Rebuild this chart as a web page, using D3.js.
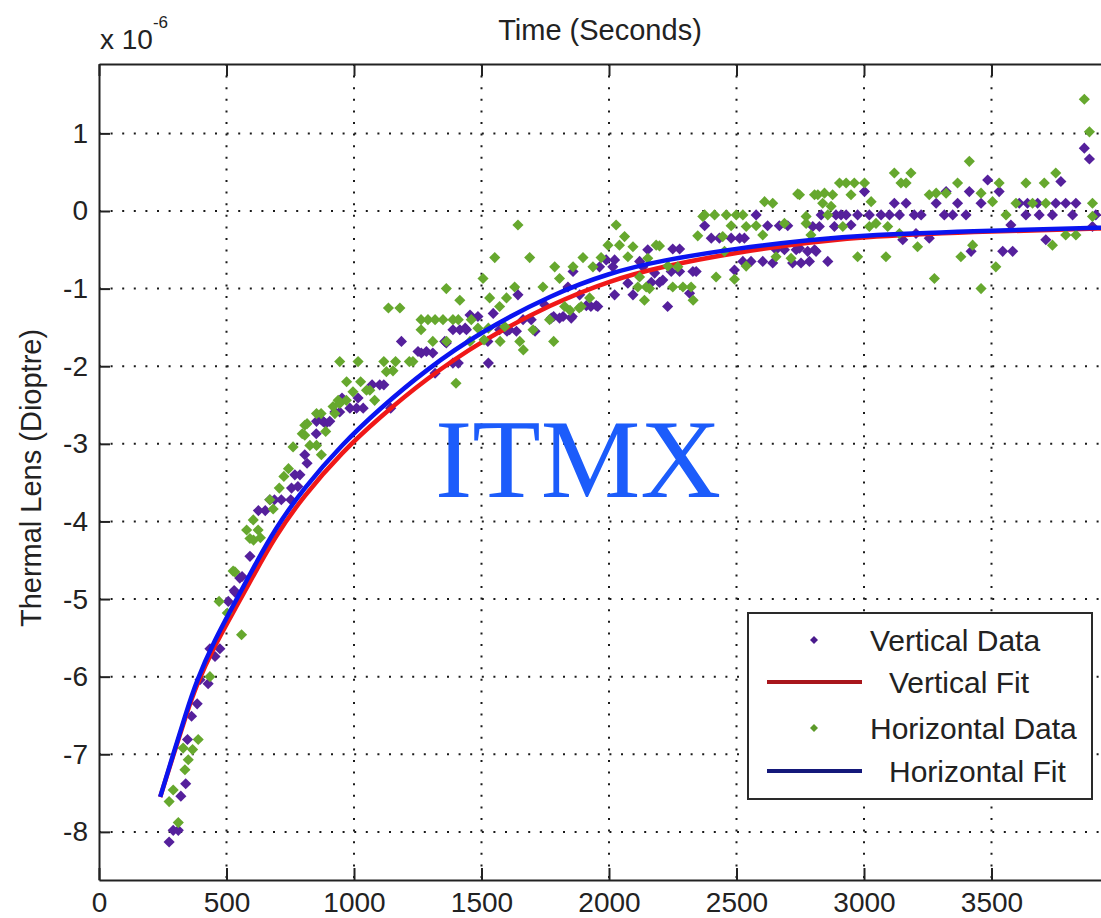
<!DOCTYPE html>
<html>
<head>
<meta charset="utf-8">
<script src="https://cdnjs.cloudflare.com/ajax/libs/d3/7.8.5/d3.min.js"></script>
<style>
  html, body { margin: 0; padding: 0; background: #fff; }
  svg { display: block; font-family: "Liberation Sans", Arial, sans-serif; }
</style>
</head>
<body>
<svg id="chart" width="1101" height="918"></svg>
<script>
// time (s), thermal lens (x 1e-6 dioptre)
const vertData = [[275,-8.13],[291,-7.98],[311,-7.98],[321,-7.54],[340,-7.38],[347,-6.81],[363,-6.51],[385,-6.35],[396,-6.04],[428,-6.09],[435,-5.64],[455,-5.74],[474,-5.64],[507,-5.03],[530,-4.89],[533,-4.91],[552,-4.73],[561,-4.71],[592,-4.45],[625,-3.86],[652,-3.86],[670,-3.72],[688,-3.72],[715,-3.72],[752,-3.72],[755,-3.57],[768,-3.40],[780,-3.55],[788,-3.40],[807,-3.14],[816,-3.25],[852,-2.87],[853,-2.71],[872,-2.69],[879,-2.71],[889,-2.74],[905,-2.71],[925,-2.59],[944,-2.59],[953,-2.41],[984,-2.54],[1010,-2.54],[1016,-2.41],[1036,-2.54],[1071,-2.24],[1101,-2.24],[1117,-2.24],[1144,-2.54],[1186,-1.68],[1251,-1.81],[1264,-1.83],[1284,-1.81],[1309,-1.83],[1318,-2.09],[1356,-1.68],[1362,-1.70],[1388,-1.53],[1388,-1.96],[1409,-1.96],[1415,-1.53],[1436,-1.51],[1441,-1.53],[1455,-1.34],[1486,-1.36],[1525,-1.68],[1527,-1.96],[1546,-1.32],[1571,-1.53],[1600,-1.55],[1610,-1.53],[1637,-1.55],[1643,-1.08],[1663,-1.40],[1695,-1.40],[1710,-1.55],[1748,-1.21],[1774,-1.38],[1783,-1.36],[1806,-1.38],[1820,-1.36],[1839,-0.98],[1852,-1.38],[1856,-1.36],[1859,-0.78],[1885,-1.08],[1911,-1.22],[1929,-1.23],[1950,-1.22],[1956,-1.23],[1963,-0.72],[1989,-0.63],[2015,-0.72],[2022,-0.63],[2022,-1.08],[2074,-0.93],[2094,-1.08],[2120,-0.65],[2133,-0.72],[2152,-0.50],[2166,-0.92],[2179,-0.80],[2198,-0.92],[2211,-0.89],[2230,-1.23],[2244,-0.78],[2250,-0.49],[2277,-0.49],[2277,-0.78],[2316,-1.06],[2329,-0.78],[2342,-0.78],[2375,-0.19],[2401,-0.35],[2433,-0.35],[2479,-0.35],[2492,-0.76],[2512,-0.35],[2525,-0.65],[2531,-0.35],[2557,-0.65],[2577,-0.05],[2603,-0.65],[2622,-0.19],[2642,-0.67],[2655,-0.50],[2668,-0.19],[2688,-0.50],[2701,-0.19],[2720,-0.67],[2734,-0.50],[2747,-0.48],[2753,-0.67],[2779,-0.52],[2786,-0.65],[2799,-0.20],[2806,-0.50],[2812,-0.52],[2825,-0.20],[2832,-0.05],[2858,-0.65],[2884,-0.20],[2890,-0.05],[2910,-0.05],[2930,-0.05],[2949,-0.18],[2975,-0.05],[3002,0.25],[3021,-0.05],[3067,-0.05],[3100,-0.05],[3119,0.10],[3139,-0.05],[3152,-0.37],[3165,0.10],[3197,-0.05],[3204,-0.29],[3224,-0.05],[3256,-0.35],[3283,0.10],[3315,-0.05],[3322,0.25],[3348,-0.05],[3367,0.10],[3400,-0.05],[3413,0.25],[3420,-0.52],[3459,0.10],[3485,0.40],[3530,0.25],[3544,-0.52],[3576,-0.18],[3583,-0.52],[3609,0.10],[3635,-0.05],[3641,0.10],[3681,0.10],[3687,-0.05],[3713,-0.37],[3739,-0.05],[3752,0.10],[3772,0.38],[3791,0.10],[3818,-0.05],[3831,0.10],[3864,0.81],[3884,0.67],[3896,-0.20],[3909,-0.05]]

const horizData = [[275,-7.61],[291,-7.46],[311,-7.88],[330,-6.92],[337,-7.20],[350,-7.07],[367,-6.94],[389,-6.81],[435,-6.00],[471,-5.03],[503,-5.18],[526,-4.64],[533,-4.65],[559,-5.46],[579,-4.11],[592,-4.22],[605,-3.98],[606,-4.24],[624,-4.11],[633,-4.21],[670,-3.72],[683,-3.84],[707,-3.57],[725,-3.42],[743,-3.32],[761,-3.04],[797,-2.87],[807,-2.76],[807,-2.89],[816,-2.74],[827,-3.02],[853,-3.02],[853,-2.61],[871,-2.61],[872,-3.14],[889,-2.84],[918,-2.52],[925,-2.61],[938,-2.44],[944,-1.94],[944,-2.48],[970,-2.44],[971,-2.20],[996,-2.33],[1016,-1.94],[1026,-2.20],[1049,-2.31],[1062,-2.31],[1081,-2.44],[1117,-1.94],[1127,-2.07],[1135,-1.25],[1153,-2.06],[1163,-1.94],[1180,-1.25],[1217,-1.94],[1231,-1.94],[1263,-1.40],[1263,-1.53],[1290,-1.40],[1309,-1.68],[1318,-1.40],[1349,-1.40],[1362,-1.00],[1363,-1.68],[1388,-1.40],[1400,-2.22],[1409,-1.40],[1415,-1.15],[1455,-1.68],[1460,-1.40],[1486,-1.51],[1506,-0.87],[1510,-1.66],[1527,-1.51],[1532,-1.12],[1552,-0.60],[1571,-1.23],[1573,-1.68],[1591,-1.49],[1598,-1.12],[1630,-0.98],[1643,-0.18],[1650,-1.68],[1664,-1.79],[1689,-0.60],[1702,-1.53],[1741,-0.98],[1767,-1.40],[1783,-1.68],[1787,-0.72],[1806,-0.87],[1826,-1.23],[1847,-1.28],[1859,-0.72],[1883,-1.25],[1891,-1.23],[1898,-0.60],[1924,-1.12],[1937,-0.72],[1969,-0.60],[1996,-0.44],[2028,-0.18],[2041,-0.44],[2061,-0.33],[2074,-0.59],[2094,-0.46],[2113,-0.98],[2120,-0.85],[2139,-1.15],[2146,-0.98],[2152,-0.61],[2159,-1.00],[2185,-0.44],[2198,-0.45],[2231,-0.71],[2250,-0.98],[2270,-0.72],[2290,-0.98],[2322,-0.98],[2330,-1.15],[2348,-0.32],[2368,-0.07],[2375,-0.05],[2414,-0.05],[2420,-0.85],[2446,-0.33],[2453,-0.52],[2460,-0.05],[2479,-0.19],[2492,-0.88],[2499,-0.05],[2525,-0.05],[2538,-0.20],[2538,-0.71],[2577,-0.19],[2603,-0.31],[2610,0.12],[2642,0.10],[2655,-0.59],[2688,-0.16],[2714,-0.61],[2740,0.22],[2747,0.21],[2773,-0.07],[2773,-0.16],[2792,-0.31],[2806,0.21],[2819,0.21],[2838,0.10],[2845,0.23],[2858,-0.05],[2871,0.06],[2877,0.21],[2904,0.36],[2917,-0.20],[2930,0.36],[2949,0.21],[2962,0.36],[2975,-0.59],[3002,0.36],[3021,-0.20],[3028,0.12],[3047,-0.16],[3086,-0.59],[3093,-0.20],[3119,0.49],[3139,-0.29],[3145,0.36],[3165,0.36],[3184,0.49],[3210,-0.46],[3256,0.21],[3276,-0.87],[3283,0.23],[3322,0.23],[3367,0.36],[3380,-0.59],[3413,0.64],[3426,-0.44],[3459,0.23],[3459,-1.00],[3504,0.12],[3517,-0.72],[3530,0.36],[3557,-0.05],[3596,0.10],[3635,0.36],[3661,0.10],[3707,0.36],[3713,0.10],[3739,-0.44],[3752,0.49],[3791,-0.31],[3831,-0.31],[3864,1.44],[3884,1.02],[3896,0.10],[3896,-0.07]]

// fit curves
const fitTime  = [240, 291, 340, 383, 450, 540, 610, 690, 800, 955, 1100, 1280, 1500, 1780, 2000, 2200, 2500, 2800, 3000, 3500, 4000]
const vertFit  = [-7.55, -7.02, -6.51, -6.10, -5.62, -5.09, -4.67, -4.20, -3.68, -3.10, -2.66, -2.17, -1.67, -1.19, -0.90, -0.72, -0.53, -0.40, -0.33, -0.26, -0.22]
const horizFit = [-7.55, -7.00, -6.48, -6.05, -5.55, -5.00, -4.57, -4.10, -3.58, -3.00, -2.55, -2.05, -1.55, -1.07, -0.80, -0.64, -0.48, -0.37, -0.31, -0.25, -0.21]

const xTicks = [0, 500, 1000, 1500, 2000, 2500, 3000, 3500]
const yTicks = [-8, -7, -6, -5, -4, -3, -2, -1, 0, 1]

const legendItems = [
  {label: 'Vertical Data', kind: 'dot', color: '#4a1a8c'},
  {label: 'Vertical Fit', kind: 'line', color: '#a8161c'},
  {label: 'Horizontal Data', kind: 'dot', color: '#5c9a2a'},
  {label: 'Horizontal Fit', kind: 'line', color: '#14187a'},
]

const purple = '#55209c', green = '#66a82e', red = '#f01818', blue = '#0a14f0'

const svg = d3.select('#chart')
const plotL = 99, plotR = 1119, plotT = 64, plotB = 880

const x = d3.scaleLinear().domain([0, 4000]).range([plotL, plotR])
const y = d3.scaleLinear().domain([-8.62, 1.894]).range([plotB, plotT])

// dotted grid
const grid = svg.append('g').attr('stroke', '#1a1a1a').attr('stroke-width', 2)
  .attr('stroke-dasharray', '2,9.6')
grid.selectAll('line.v').data(xTicks.slice(1).concat([4000])).join('line')
  .attr('x1', d => x(d)).attr('x2', d => x(d)).attr('y1', plotT).attr('y2', plotB)
grid.selectAll('line.h').data(yTicks).join('line')
  .attr('x1', plotL).attr('x2', plotR).attr('y1', d => y(d)).attr('y2', d => y(d))

const diamond = d3.symbol(d3.symbolSquare, 62)
const lineGen = d3.line().x(d => x(d[0])).y(d => y(d[1])).curve(d3.curveBasis)

const plot = svg.append('g')
function dots(data, color) {
  plot.append('g').selectAll('path').data(data).join('path')
    .attr('d', diamond)
    .attr('transform', d => `translate(${x(d[0])},${y(d[1])}) rotate(45)`)
    .attr('fill', color)
}
function fit(vals, color) {
  plot.append('path').datum(fitTime.map((t, i) => [t, vals[i]]))
    .attr('d', lineGen).attr('fill', 'none').attr('stroke', color)
    .attr('stroke-width', 4.5).attr('stroke-linejoin', 'round')
}
dots(vertData, purple)
fit(vertFit, red)
dots(horizData, green)
fit(horizFit, blue)

// frame + ticks
const axisStyle = g => {
  g.select('.domain').attr('stroke', '#222').attr('stroke-width', 2)
  g.selectAll('.tick line').attr('stroke', '#222').attr('stroke-width', 2)
  g.selectAll('.tick text').attr('fill', '#222').style('font-size', '28px')
    .style('font-family', '"Liberation Sans", Arial, sans-serif')
}
const fmt = d => String(d)
svg.append('g').attr('transform', `translate(0,${plotB})`)
  .call(d3.axisBottom(x).tickValues(xTicks).tickFormat(fmt)
    .tickSize(-12).tickSizeOuter(0).tickPadding(12))
  .call(axisStyle)
svg.append('g').attr('transform', `translate(0,${plotT})`)
  .call(d3.axisTop(x).tickValues(xTicks).tickFormat('')
    .tickSize(-12).tickSizeOuter(0))
  .call(axisStyle)
svg.append('g').attr('transform', `translate(${plotL},0)`)
  .call(d3.axisLeft(y).tickValues(yTicks).tickFormat(fmt)
    .tickSize(-11).tickSizeOuter(0).tickPadding(11))
  .call(axisStyle)

// exponent note
const expo = svg.append('text').attr('x', 100).attr('y', 49)
  .attr('fill', '#222').style('font-size', '28px').text('x 10')
expo.append('tspan').attr('dy', -21).style('font-size', '17px').text('-6')

svg.append('text').attr('x', 600).attr('y', 40).attr('text-anchor', 'middle')
  .attr('fill', '#222').style('font-size', '29px').text('Time (Seconds)')

svg.append('text').attr('transform', 'translate(41,478) rotate(-90)')
  .attr('text-anchor', 'middle').attr('fill', '#222').style('font-size', '29px')
  .text('Thermal Lens (Dioptre)')

svg.append('text').attr('x', 435).attr('y', 497)
  .style('font-family', '"Liberation Serif", "Times New Roman", serif')
  .style('font-size', '112px').attr('fill', '#1c5cfb').text('ITMX')

// legend
const lg = svg.append('g')
lg.append('rect').attr('x', 748).attr('y', 613).attr('width', 344).attr('height', 186)
  .attr('fill', '#fff').attr('stroke', '#2a2a2a').attr('stroke-width', 2)
const rowY = [640, 682, 728, 771]
const textX = [870, 889, 870, 889]
legendItems.forEach((d, i) => {
  if (d.kind === 'dot') {
    lg.append('path').attr('d', d3.symbol(d3.symbolSquare, 32))
      .attr('transform', `translate(814,${rowY[i]}) rotate(45)`).attr('fill', d.color)
  } else {
    lg.append('line').attr('x1', 767).attr('x2', 862).attr('y1', rowY[i]).attr('y2', rowY[i])
      .attr('stroke', d.color).attr('stroke-width', 4)
  }
  lg.append('text').attr('x', textX[i]).attr('y', rowY[i] + 11)
    .attr('fill', '#222').style('font-size', '30px').text(d.label)
})
</script>
</body>
</html>
